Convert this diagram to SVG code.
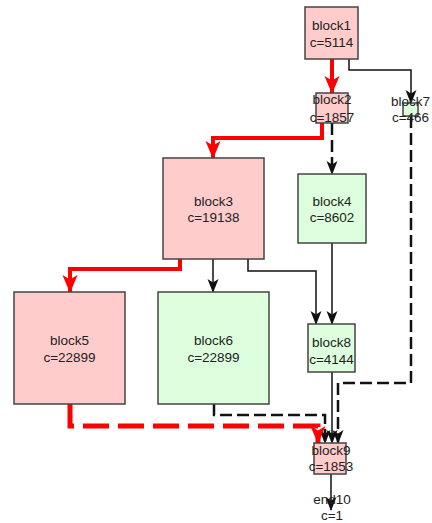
<svg xmlns="http://www.w3.org/2000/svg" width="432" height="523" viewBox="0 0 432 523">
<style>
.pink{fill:#ffcccc;stroke:#444;stroke-width:1.5}
.green{fill:#ddffdd;stroke:#444;stroke-width:1.5}
text{font-family:"Liberation Sans",Arial,sans-serif;font-size:13.5px;fill:#222;text-anchor:middle}
.e{fill:none;stroke:#111;stroke-width:1.5}
.ed{fill:none;stroke:#111;stroke-width:2.5;stroke-dasharray:12,5}
.r{fill:none;stroke:#ff0000;stroke-width:4}
.rd{fill:none;stroke:#ff0000;stroke-width:5;stroke-dasharray:26,9}
</style>
<defs>
<marker id="ab" markerUnits="userSpaceOnUse" markerWidth="14" markerHeight="14" viewBox="0 0 14 14" refX="13" refY="7" orient="auto"><path d="M0,1.5 L14,7 L0,12.5 L3.5,7 Z" fill="#111"/></marker>
<marker id="ar" markerUnits="userSpaceOnUse" markerWidth="18" markerHeight="18" viewBox="0 0 18 18" refX="17" refY="9" orient="auto"><path d="M0,1.5 L18,9 L0,16.5 L4.5,9 Z" fill="#ff0000"/></marker>
</defs>
<g id="edges">
<path class="r" d="M332,59 V93" marker-end="url(#ar)"/>
<path class="e" d="M349,59 V70 H411 V103" marker-end="url(#ab)"/>
<path class="r" d="M322,123 V138 H213 V158" marker-end="url(#ar)"/>
<path class="ed" d="M332,123 V174" marker-end="url(#ab)"/>
<path class="r" d="M180,259 V269 H70 V292" marker-end="url(#ar)"/>
<path class="e" d="M213,259 V292" marker-end="url(#ab)"/>
<path class="e" d="M248,259 V271 H316 V324" marker-end="url(#ab)"/>
<path class="e" d="M332,243 V324" marker-end="url(#ab)"/>
<path class="ed" d="M411,116 V383 H338 V443" marker-end="url(#ab)"/>
<path class="ed" d="M214,404 V415 H325 V443" marker-end="url(#ab)"/>
<path class="rd" d="M70,404 V426 H318 V443" marker-end="url(#ar)"/>
<path class="e" d="M332,372 V443" marker-end="url(#ab)"/>
<path class="e" d="M331,474 V510" marker-end="url(#ab)"/>
</g>
<g id="block1"><rect class="pink" x="305" y="7" width="53" height="52"/><text x="331.5" y="30">block1</text><text x="331.5" y="47">c=5114</text></g>
<g id="block2"><rect class="pink" x="316" y="93" width="32" height="30"/><text x="332" y="104">block2</text><text x="332" y="122">c=1857</text></g>
<g id="block7"><rect class="green" x="403" y="103" width="15" height="13"/><text x="410.5" y="106">block7</text><text x="410.5" y="122">c=466</text></g>
<g id="block3"><rect class="pink" x="163" y="158" width="101" height="101"/><text x="213.5" y="206">block3</text><text x="213.5" y="222">c=19138</text></g>
<g id="block4"><rect class="green" x="298" y="174" width="68" height="69"/><text x="332" y="206">block4</text><text x="332" y="222">c=8602</text></g>
<g id="block5"><rect class="pink" x="14" y="292" width="111" height="112"/><text x="69.5" y="345">block5</text><text x="69.5" y="362">c=22899</text></g>
<g id="block6"><rect class="green" x="158" y="292" width="111" height="112"/><text x="213.5" y="345">block6</text><text x="213.5" y="362">c=22899</text></g>
<g id="block8"><rect class="green" x="308" y="324" width="47" height="48"/><text x="331.5" y="347">block8</text><text x="331.5" y="364">c=4144</text></g>
<g id="block9"><rect class="pink" x="314" y="443" width="32" height="31"/><text x="331" y="455">block9</text><text x="331" y="471">c=1853</text></g>
<g id="end10"><text x="332" y="504">end10</text><text x="332" y="520">c=1</text></g>
</svg>
